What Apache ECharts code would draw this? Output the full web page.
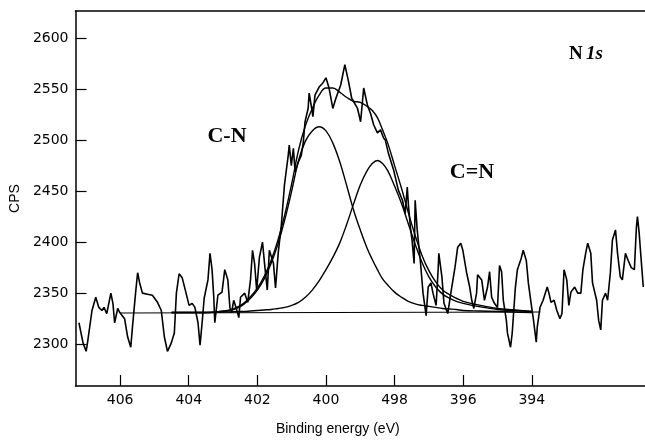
<!DOCTYPE html>
<html>
<head>
<meta charset="utf-8">
<script src="https://cdn.jsdelivr.net/npm/echarts@6/dist/echarts.min.js"></script>
<style>
html, body { margin: 0; padding: 0; background: #fff; }
#main { width: 645px; height: 441px; }
</style>
</head>
<body>
<div id="main"></div>
<script>
// N 1s spectrum: [binding energy (eV), counts per second]
var spectrum = [
    [407.20,2321],[407.08,2301],[406.99,2293],[406.94,2304],[406.82,2333],[406.71,2346],[406.62,2336],[406.53,2333],
    [406.47,2336],[406.39,2330],[406.27,2350],[406.21,2340],[406.16,2321],[406.07,2335],[406.01,2331],[405.87,2325],
    [405.78,2307],[405.69,2297],[405.64,2317],[405.55,2350],[405.49,2370],[405.43,2360],[405.35,2350],[405.20,2349],
    [405.06,2348],[404.91,2341],[404.80,2333],[404.71,2307],[404.62,2293],[404.51,2301],[404.42,2311],[404.36,2350],
    [404.28,2369],[404.19,2365],[404.10,2353],[403.99,2338],[403.90,2340],[403.82,2336],[403.73,2321],[403.67,2299],
    [403.61,2321],[403.55,2345],[403.44,2363],[403.38,2389],[403.32,2373],[403.27,2346],[403.24,2321],[403.15,2348],
    [403.03,2351],[402.95,2373],[402.86,2363],[402.80,2336],[402.75,2331],[402.69,2343],[402.63,2337],[402.54,2326],
    [402.49,2346],[402.37,2350],[402.28,2341],[402.20,2363],[402.14,2392],[402.08,2379],[402.02,2353],[401.94,2385],
    [401.85,2400],[401.79,2379],[401.71,2353],[401.65,2392],[401.53,2379],[401.47,2355],[401.39,2390],[401.30,2417],
    [401.21,2456],[401.10,2485],[401.07,2495],[401.01,2475],[400.95,2492],[400.90,2469],[400.81,2478],[400.72,2485],
    [400.66,2498],[400.61,2518],[400.52,2531],[400.49,2546],[400.43,2534],[400.38,2523],[400.32,2544],[400.20,2552],
    [400.09,2556],[400.00,2561],[399.91,2551],[399.80,2531],[399.71,2541],[399.57,2554],[399.45,2574],[399.34,2557],
    [399.25,2541],[399.08,2531],[398.99,2518],[398.90,2551],[398.79,2534],[398.70,2526],[398.61,2515],[398.50,2507],
    [398.41,2510],[398.32,2502],[398.27,2500],[398.18,2487],[398.03,2471],[397.89,2451],[397.77,2441],[397.69,2428],
    [397.63,2454],[397.60,2438],[397.54,2415],[397.49,2402],[397.43,2379],[397.40,2441],[397.34,2412],[397.25,2382],
    [397.17,2350],[397.08,2328],[397.02,2356],[396.94,2360],[396.88,2350],[396.79,2338],[396.73,2373],[396.71,2389],
    [396.62,2366],[396.56,2340],[396.45,2330],[396.36,2350],[396.24,2375],[396.16,2395],[396.07,2399],[396.01,2392],
    [395.90,2370],[395.81,2356],[395.75,2343],[395.69,2335],[395.61,2350],[395.58,2368],[395.46,2363],[395.38,2343],
    [395.29,2356],[395.23,2371],[395.17,2346],[395.09,2340],[395.00,2336],[394.94,2377],[394.88,2371],[394.83,2343],
    [394.74,2323],[394.71,2311],[394.62,2297],[394.57,2311],[394.48,2355],[394.42,2373],[394.31,2384],[394.25,2392],
    [394.16,2382],[394.10,2360],[394.02,2340],[393.96,2326],[393.87,2302],[393.84,2317],[393.76,2336],[393.67,2343],
    [393.55,2356],[393.50,2350],[393.44,2341],[393.35,2343],[393.27,2333],[393.18,2325],[393.12,2330],[393.06,2373],
    [392.98,2363],[392.92,2338],[392.86,2351],[392.75,2356],[392.66,2350],[392.57,2350],[392.51,2373],[392.43,2389],
    [392.37,2399],[392.28,2389],[392.23,2360],[392.11,2343],[392.05,2323],[391.99,2314],[391.94,2343],[391.85,2350],
    [391.79,2343],[391.71,2370],[391.65,2402],[391.56,2412],[391.50,2389],[391.42,2366],[391.36,2363],[391.27,2389],
    [391.19,2382],[391.10,2375],[391.01,2373],[390.95,2415],[390.92,2425],[390.87,2409],[390.81,2382],[390.75,2356]
];

var fitEnergy = [404.5,404.0,403.5,403.0,402.8,402.6,402.4,402.2,402.0,401.8,401.6,401.4,401.2,401.0,400.8,400.6,400.4,400.2,
    400.0,399.8,399.6,399.4,399.2,399.0,398.8,398.65,398.5,398.35,398.2,398.0,397.8,397.6,397.4,397.2,397.0,396.8,396.6,396.4,
    396.2,396.0,395.5,395.0,394.5,394.0];
var peakCN = [2331,2331,2331,2332,2333,2335,2339,2345,2353,2364,2379,2398,2422,2450,2480,2499,2509,2513,
    2509,2497,2479,2456,2432,2412,2394,2383,2373,2364,2358,2351,2346,2342,2339.5,2338,2337,2336,2335,2334.5,
    2334,2333,2332.5,2332,2331.5,2331];
var peakCdN = [2331,2331,2331,2331.5,2331.5,2332,2332,2332.5,2333,2333.5,2334,2335,2336,2338,2341,2346,2353,2362,
    2373,2385,2399,2417,2437,2456,2470,2477,2480,2477,2470,2455,2438,2418,2398,2380,2366,2356,2349,2345,
    2342,2340,2336.5,2334,2333,2332];
var envelope = [2331,2331,2331,2332.5,2333.5,2336,2340,2346.5,2355,2366.5,2382,2402,2427,2457,2490,2514,2531,2544,
    2551,2551,2547,2542,2538,2537,2533,2529,2522,2510,2497,2475,2453,2429,2406.5,2387,2372,2361,2353,2348.5,
    2345,2342,2338,2335,2333.5,2332];
var background = [[406.0,2330.5],[393.75,2331.5]];

var xTicks = [406,404,402,400,398,396,394];
var xTickLabels = ['406','404','402','400','498','396','394'];
var yTicks = [2300,2350,2400,2450,2500,2550,2600];

function pairs(xs, ys) {
    return xs.map(function (x, i) { return [x, ys[i]]; });
}

var myChart = echarts.init(document.getElementById('main'));
var black = '#000';
var fitLine = {color: black, width: 1.4};

var option = {
    animation: false,
    grid: {left: 75, right: 0, top: 11, bottom: 55},
    xAxis: [
        {
            type: 'value',
            min: 390.7,
            max: 407.3,
            inverse: true,
            axisLine: {show: true, onZero: false, lineStyle: {color: black, width: 1.5}},
            axisTick: {show: true, inside: true, length: 11, customValues: xTicks, lineStyle: {color: black, width: 1.2}},
            axisLabel: {
                customValues: xTicks,
                margin: 7,
                color: black,
                fontFamily: 'DejaVu Sans',
                fontSize: 14,
                formatter: function (v) {
                    for (var i = 0; i < xTicks.length; i++) {
                        if (Math.abs(xTicks[i] - v) < 1e-6) return xTickLabels[i];
                    }
                    return '';
                }
            },
            splitLine: {show: false},
            name: 'Binding energy (eV)',
            nameLocation: 'middle',
            nameGap: 36,
            nameTextStyle: {color: black, fontFamily: 'Liberation Sans', fontSize: 14, padding: [0, 45, 0, 0]}
        },
        {
            // top frame line
            type: 'value',
            position: 'top',
            min: 390.7,
            max: 407.3,
            inverse: true,
            axisLine: {show: true, onZero: false, lineStyle: {color: black, width: 1.5}},
            axisTick: {show: false},
            axisLabel: {show: false},
            splitLine: {show: false}
        }
    ],
    yAxis: {
        type: 'value',
        min: 2259,
        max: 2626.5,
        axisLine: {show: true, onZero: false, lineStyle: {color: black, width: 1.5}},
        axisTick: {show: true, inside: true, length: 11, customValues: yTicks, lineStyle: {color: black, width: 1.2}},
        axisLabel: {
            customValues: yTicks,
            margin: 7,
            color: black,
            fontFamily: 'DejaVu Sans',
            fontSize: 14,
            formatter: function (v) { return String(Math.round(v)); }
        },
        splitLine: {show: false},
        name: 'CPS',
        nameLocation: 'middle',
        nameGap: 48,
        nameTextStyle: {color: black, fontFamily: 'Liberation Sans', fontSize: 14}
    },
    series: [
        {
            name: 'data',
            type: 'line',
            data: spectrum,
            symbol: 'none',
            lineStyle: {color: black, width: 1.6}
        },
        {
            name: 'background',
            type: 'line',
            data: background,
            symbol: 'none',
            lineStyle: {color: black, width: 1.1}
        },
        {
            name: 'C-N',
            type: 'line',
            data: pairs(fitEnergy, peakCN),
            symbol: 'none',
            smooth: 0.4,
            lineStyle: fitLine
        },
        {
            name: 'C=N',
            type: 'line',
            data: pairs(fitEnergy, peakCdN),
            symbol: 'none',
            smooth: 0.4,
            lineStyle: fitLine
        },
        {
            name: 'envelope',
            type: 'line',
            data: pairs(fitEnergy, envelope),
            symbol: 'none',
            smooth: 0.4,
            lineStyle: fitLine
        }
    ],
    graphic: [
        {
            type: 'text', x: 227, y: 136,
            style: {text: 'C-N', font: 'bold 22px "Liberation Serif"', fill: black, align: 'center', verticalAlign: 'middle'}
        },
        {
            type: 'text', x: 472, y: 172,
            style: {text: 'C=N', font: 'bold 22px "Liberation Serif"', fill: black, align: 'center', verticalAlign: 'middle'}
        },
        {
            type: 'text', x: 586, y: 54,
            style: {
                text: '{a|N} {b|1s}',
                align: 'center',
                verticalAlign: 'middle',
                rich: {
                    a: {font: 'bold 19px "Liberation Serif"', fill: black},
                    b: {font: 'italic bold 19px "Liberation Serif"', fill: black}
                }
            }
        }
    ]
};

myChart.setOption(option);
</script>
</body>
</html>
